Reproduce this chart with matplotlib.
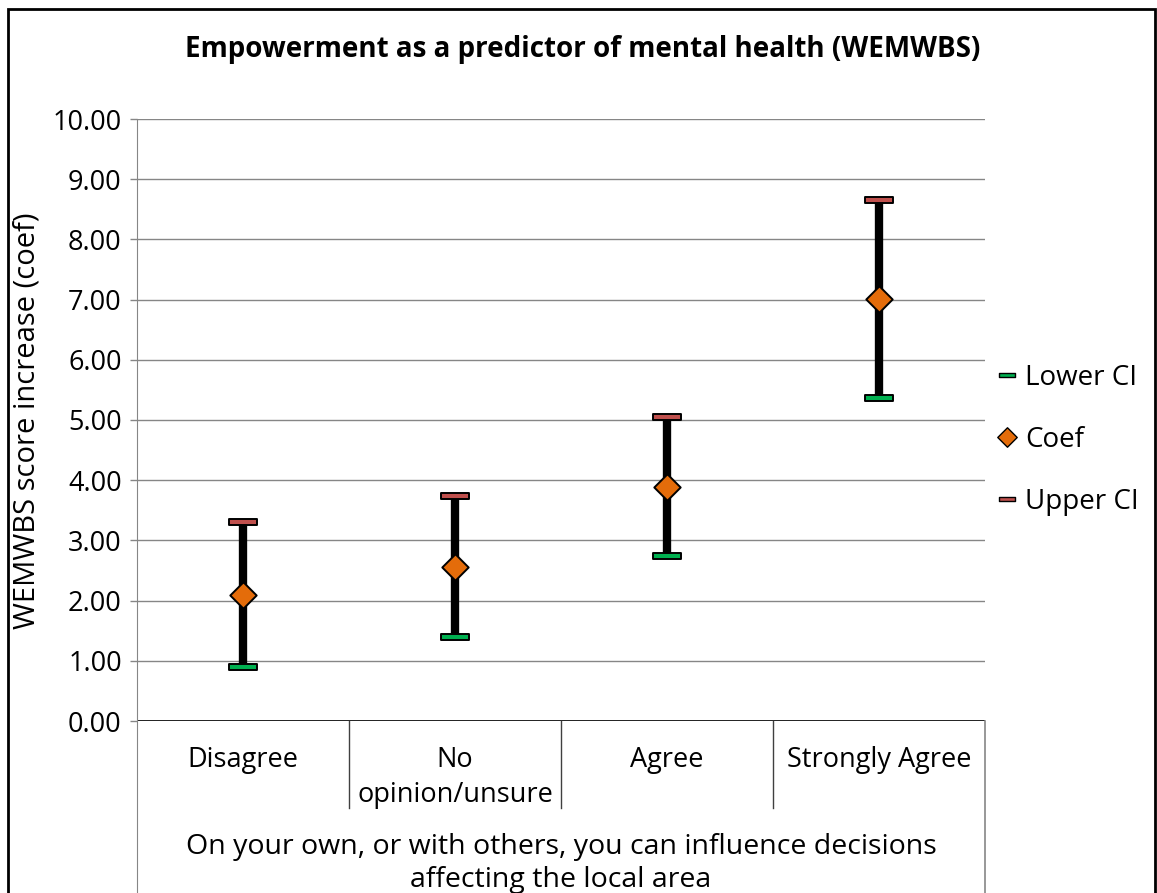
import matplotlib
matplotlib.use("Agg")
import matplotlib.pyplot as plt
from matplotlib.path import Path
from matplotlib.lines import Line2D
from matplotlib.patches import Rectangle
import matplotlib.transforms as mtransforms

# Data
categories = ["Disagree", "No\nopinion/unsure", "Agree", "Strongly Agree"]
lower_ci = [0.90, 1.40, 2.74, 5.37]
coef = [2.10, 2.56, 3.88, 7.01]
upper_ci = [3.30, 3.74, 5.05, 8.65]
y_ticks = [0, 1, 2, 3, 4, 5, 6, 7, 8, 9, 10]
title = "Empowerment as a predictor of mental health (WEMWBS)"
x_title = "On your own, or with others, you can influence decisions\naffecting the local area"
y_title = "WEMWBS score increase (coef)"

FONT = "Open Sans"
plt.rcParams["font.family"] = [FONT, "DejaVu Sans"]

GREEN = "#00B050"
RED = "#C0504D"
ORANGE = "#E46C0A"
GRID = "#868686"

dash = Path([(-0.5, -0.1), (0.5, -0.1), (0.5, 0.1), (-0.5, 0.1), (-0.5, -0.1)],
            [Path.MOVETO, Path.LINETO, Path.LINETO, Path.LINETO, Path.CLOSEPOLY])
diamond = Path([(0, 0.5), (0.5, 0), (0, -0.5), (-0.5, 0), (0, 0.5)],
               [Path.MOVETO, Path.LINETO, Path.LINETO, Path.LINETO, Path.CLOSEPOLY])

fig = plt.figure(figsize=(11.57, 8.93), dpi=100)
ax = fig.add_axes([137 / 1157, 1 - 721 / 893, 848 / 1157, 602 / 893])

x = list(range(len(categories)))

# high-low bars
ax.vlines(x, lower_ci, upper_ci, color="black", lw=6, zorder=3)
ax.plot(x, lower_ci, ls="none", marker=dash, ms=20, mfc=GREEN, mec="black", mew=1.4, zorder=4)
ax.plot(x, upper_ci, ls="none", marker=dash, ms=20, mfc=RED, mec="black", mew=1.4, zorder=4)
ax.plot(x, coef, ls="none", marker=diamond, ms=19, mfc=ORANGE, mec="black", mew=1.4, zorder=5)

ax.set_xlim(-0.5, len(categories) - 0.5)
ax.set_ylim(0, 10)
ax.set_yticks(y_ticks)
ax.set_yticklabels([f"{v:.2f}" for v in y_ticks], fontsize=19.5)
ax.tick_params(axis="y", length=5, color=GRID, width=1, pad=6)
ax.set_xticks([])
ax.yaxis.grid(True, color=GRID, lw=1)
ax.set_axisbelow(True)

for s in ["top", "right", "bottom"]:
    ax.spines[s].set_visible(False)
ax.spines["left"].set_color(GRID)
ax.spines["left"].set_bounds(-3, 10)

# zero line
ax.axhline(0, color="black", lw=1.2, zorder=2)

# category boundaries below the axis
trans = mtransforms.blended_transform_factory(ax.transData, fig.transFigure)
sep_bottom = 1 - 808 / 893
for b in [0.5, 1.5, 2.5]:
    ax.add_line(Line2D([b, b], [1 - 721 / 893, sep_bottom], transform=trans,
                       color="#404040", lw=1, clip_on=False))
ax.add_line(Line2D([3.5, 3.5], [1 - 721 / 893, 0], transform=trans,
                   color=GRID, lw=1.2, clip_on=False))

# category labels
for xi, lab in zip(x, categories):
    ax.text(xi, 1 - 746 / 893, lab, transform=trans, ha="center", va="top",
            fontsize=19.5, linespacing=1.33)

# axis titles
ax.text(1.5, 1 - 833 / 893, x_title, transform=trans, ha="center", va="top",
        fontsize=20.5, linespacing=1.25)
fig.text(27 / 1157, 1 - 421 / 893, y_title, rotation=90, ha="center", va="center",
         fontsize=21)

fig.text(583 / 1157, 1 - 50 / 893, title, ha="center", va="center",
         fontsize=20, fontweight="bold")

# legend
handles = [
    Line2D([], [], ls="none", marker=dash, ms=12, mfc=GREEN, mec="black", mew=1),
    Line2D([], [], ls="none", marker=diamond, ms=14, mfc=ORANGE, mec="black", mew=1),
    Line2D([], [], ls="none", marker=dash, ms=12, mfc=RED, mec="black", mew=1),
]
fig.legend(handles, ["Lower CI", "Coef", "Upper CI"], loc="center left",
           bbox_to_anchor=(997 / 1157, 1 - 440 / 893), frameon=False,
           fontsize=20, handlelength=0.7, handletextpad=0.3, labelspacing=1.22,
           borderaxespad=0, borderpad=0)

# outer frame
fig.add_artist(Rectangle((8 / 1157, -0.05), (1155 - 8) / 1157, 1.05 - 9 / 893,
                         transform=fig.transFigure, fill=False, ec="black", lw=2))

fig.savefig("out.png", dpi=100)
